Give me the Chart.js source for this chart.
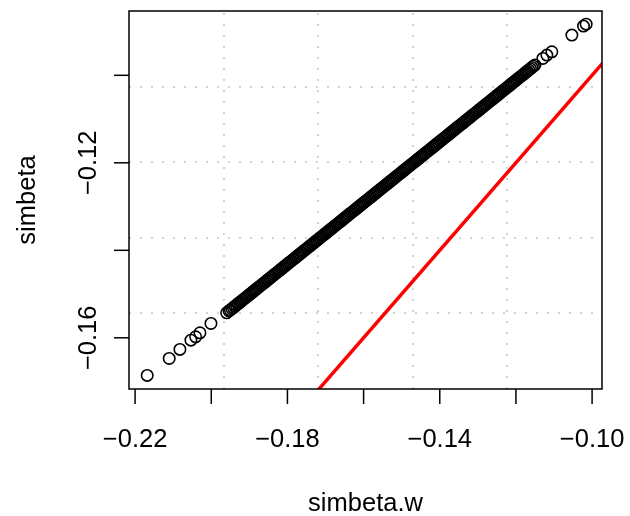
<!DOCTYPE html>
<html>
<head>
<meta charset="utf-8">
<script src="https://cdn.jsdelivr.net/npm/chart.js@4/dist/chart.umd.min.js"></script>
<style>
html,body{margin:0;padding:0;background:#fff;}
canvas{display:block;}
</style>
</head>
<body>
<canvas id="c" width="630" height="516"></canvas>
<script>
// ---- data ----
const simbetaW = [
  -0.21682,-0.21104,-0.20823,-0.20534,-0.20410,-0.20297,-0.20008,-0.19596,-0.19535,
  -0.1950,-0.1946,-0.1942,-0.1938,-0.1934,-0.1930,-0.1926,-0.1922,-0.1918,-0.1914,
  -0.1910,-0.1906,-0.1902,-0.1898,-0.1894,-0.1890,-0.1886,-0.1882,-0.1878,-0.1874,
  -0.1870,-0.1866,-0.1862,-0.1858,-0.1854,-0.1850,-0.1846,-0.1842,-0.1838,-0.1834,
  -0.1830,-0.1826,-0.1822,-0.1818,-0.1814,-0.1810,-0.1806,-0.1802,-0.1798,-0.1794,
  -0.1790,-0.1786,-0.1782,-0.1778,-0.1774,-0.1770,-0.1766,-0.1762,-0.1758,-0.1754,
  -0.1750,-0.1746,-0.1742,-0.1738,-0.1734,-0.1730,-0.1726,-0.1722,-0.1718,-0.1714,
  -0.1710,-0.1706,-0.1702,-0.1698,-0.1694,-0.1690,-0.1686,-0.1682,-0.1678,-0.1674,
  -0.1670,-0.1666,-0.1662,-0.1658,-0.1654,-0.1650,-0.1646,-0.1642,-0.1638,-0.1634,
  -0.1630,-0.1626,-0.1622,-0.1618,-0.1614,-0.1610,-0.1606,-0.1602,-0.1598,-0.1594,
  -0.1590,-0.1586,-0.1582,-0.1578,-0.1574,-0.1570,-0.1566,-0.1562,-0.1558,-0.1554,
  -0.1550,-0.1546,-0.1542,-0.1538,-0.1534,-0.1530,-0.1526,-0.1522,-0.1518,-0.1514,
  -0.1510,-0.1506,-0.1502,-0.1498,-0.1494,-0.1490,-0.1486,-0.1482,-0.1478,-0.1474,
  -0.1470,-0.1466,-0.1462,-0.1458,-0.1454,-0.1450,-0.1446,-0.1442,-0.1438,-0.1434,
  -0.1430,-0.1426,-0.1422,-0.1418,-0.1414,-0.1410,-0.1406,-0.1402,-0.1398,-0.1394,
  -0.1390,-0.1386,-0.1382,-0.1378,-0.1374,-0.1370,-0.1366,-0.1362,-0.1358,-0.1354,
  -0.1350,-0.1346,-0.1342,-0.1338,-0.1334,-0.1330,-0.1326,-0.1322,-0.1318,-0.1314,
  -0.1310,-0.1306,-0.1302,-0.1298,-0.1294,-0.1290,-0.1286,-0.1282,-0.1278,-0.1274,
  -0.1270,-0.1266,-0.1262,-0.1258,-0.1254,-0.1250,-0.1246,-0.1242,-0.1238,-0.1234,
  -0.1230,-0.1226,-0.1222,-0.1218,-0.1214,-0.1210,-0.1206,-0.1202,-0.1198,-0.1194,
  -0.1190,-0.1186,-0.1182,-0.1178,-0.1174,-0.1170,-0.1166,-0.1162,-0.1158,-0.1154,
  -0.1150,
  -0.11293,-0.11188,-0.11057,-0.10531,-0.10226,-0.10156
];
const simbeta = [
  -0.16859,-0.16471,-0.16265,-0.16053,-0.15977,-0.15886,-0.15671,-0.15429,-0.15383,
  -0.15364,-0.15336,-0.15308,-0.15280,-0.15252,-0.15224,-0.15196,-0.15168,-0.15140,-0.15112,
  -0.15084,-0.15056,-0.15028,-0.15000,-0.14972,-0.14944,-0.14916,-0.14888,-0.14860,-0.14832,
  -0.14804,-0.14776,-0.14748,-0.14720,-0.14692,-0.14664,-0.14636,-0.14608,-0.14580,-0.14552,
  -0.14524,-0.14496,-0.14468,-0.14440,-0.14412,-0.14384,-0.14356,-0.14328,-0.14300,-0.14272,
  -0.14244,-0.14216,-0.14188,-0.14160,-0.14132,-0.14104,-0.14076,-0.14048,-0.14020,-0.13992,
  -0.13964,-0.13936,-0.13908,-0.13880,-0.13852,-0.13824,-0.13796,-0.13768,-0.13740,-0.13712,
  -0.13684,-0.13656,-0.13628,-0.13600,-0.13572,-0.13544,-0.13516,-0.13488,-0.13460,-0.13432,
  -0.13404,-0.13376,-0.13348,-0.13320,-0.13292,-0.13264,-0.13236,-0.13208,-0.13180,-0.13152,
  -0.13124,-0.13096,-0.13068,-0.13040,-0.13012,-0.12984,-0.12956,-0.12928,-0.12900,-0.12872,
  -0.12844,-0.12816,-0.12788,-0.12760,-0.12732,-0.12704,-0.12676,-0.12648,-0.12620,-0.12592,
  -0.12564,-0.12536,-0.12508,-0.12480,-0.12452,-0.12424,-0.12396,-0.12368,-0.12340,-0.12312,
  -0.12284,-0.12256,-0.12228,-0.12200,-0.12172,-0.12144,-0.12116,-0.12088,-0.12060,-0.12032,
  -0.12004,-0.11976,-0.11948,-0.11920,-0.11892,-0.11864,-0.11836,-0.11808,-0.11780,-0.11752,
  -0.11724,-0.11696,-0.11668,-0.11640,-0.11612,-0.11584,-0.11556,-0.11528,-0.11500,-0.11472,
  -0.11444,-0.11416,-0.11388,-0.11360,-0.11332,-0.11304,-0.11276,-0.11248,-0.11220,-0.11192,
  -0.11164,-0.11136,-0.11108,-0.11080,-0.11052,-0.11024,-0.10996,-0.10968,-0.10940,-0.10912,
  -0.10884,-0.10856,-0.10828,-0.10800,-0.10772,-0.10744,-0.10716,-0.10688,-0.10660,-0.10632,
  -0.10604,-0.10576,-0.10548,-0.10520,-0.10492,-0.10464,-0.10436,-0.10408,-0.10380,-0.10352,
  -0.10324,-0.10296,-0.10268,-0.10240,-0.10212,-0.10184,-0.10156,-0.10128,-0.10100,-0.10072,
  -0.10044,-0.10016,-0.09988,-0.09960,-0.09932,-0.09904,-0.09876,-0.09848,-0.09820,-0.09792,
  -0.09764,
  -0.09614,-0.09538,-0.09463,-0.09081,-0.08875,-0.08830
];
// reference line y = x (abline(0,1)), two points on it
const refLineX = [-0.18, -0.09];
const refLineY = [-0.18, -0.09];
// axis ranges, ticks and labels
const xRange = [-0.2216, -0.0974];
const yRange = [-0.1717, -0.0853];
const xTicks = [-0.22, -0.20, -0.18, -0.16, -0.14, -0.12, -0.10];
const xTickLabels = ["\u22120.22", "", "\u22120.18", "", "\u22120.14", "", "\u22120.10"];
const yTicks = [-0.16, -0.14, -0.12, -0.10];
const yTickLabels = ["\u22120.16", "", "\u22120.12", ""];
const gridX = [-0.19676, -0.17192, -0.14708, -0.12224];
const gridY = [-0.15442, -0.13714, -0.11986, -0.10258];
const xTitle = "simbeta.w";
const yTitle = "simbeta";

// ---- build chart ----
const points = simbetaW.map((x, i) => ({x: x, y: simbeta[i]}));
const refLine = refLineX.map((x, i) => ({x: x, y: refLineY[i]}));
const FONT = '25.5px "Liberation Sans", Arial, sans-serif';

const rAxes = {
  id: 'rAxes',
  beforeDatasetsDraw(chart) {
    const ctx = chart.ctx, a = chart.chartArea;
    const xs = chart.scales.x, ys = chart.scales.y;
    ctx.save();
    ctx.strokeStyle = '#d3d3d3';
    ctx.lineWidth = 2;
    ctx.setLineDash([2, 9]);
    gridX.forEach(v => {
      const px = Math.round(xs.getPixelForValue(v));
      ctx.beginPath(); ctx.moveTo(px, a.bottom); ctx.lineTo(px, a.top); ctx.stroke();
    });
    gridY.forEach(v => {
      const py = Math.round(ys.getPixelForValue(v));
      ctx.beginPath(); ctx.moveTo(a.left, py); ctx.lineTo(a.right, py); ctx.stroke();
    });
    ctx.restore();
  },
  afterDraw(chart) {
    const ctx = chart.ctx, a = chart.chartArea;
    const xs = chart.scales.x, ys = chart.scales.y;
    ctx.save();
    ctx.strokeStyle = '#000';
    ctx.fillStyle = '#000';
    ctx.lineWidth = 1.5;
    ctx.setLineDash([]);
    ctx.strokeRect(a.left, a.top, a.right - a.left, a.bottom - a.top);
    ctx.font = FONT;
    // x axis ticks + labels
    xTicks.forEach((v, i) => {
      const px = xs.getPixelForValue(v);
      ctx.beginPath(); ctx.moveTo(px, a.bottom); ctx.lineTo(px, a.bottom + 15); ctx.stroke();
      if (xTickLabels[i]) {
        ctx.textAlign = 'center'; ctx.textBaseline = 'alphabetic';
        ctx.fillText(xTickLabels[i], px, a.bottom + 58);
      }
    });
    // y axis ticks + labels
    yTicks.forEach((v, i) => {
      const py = ys.getPixelForValue(v);
      ctx.beginPath(); ctx.moveTo(a.left, py); ctx.lineTo(a.left - 15, py); ctx.stroke();
      if (yTickLabels[i]) {
        ctx.save();
        ctx.translate(a.left - 33, py);
        ctx.rotate(-Math.PI / 2);
        ctx.textAlign = 'center'; ctx.textBaseline = 'alphabetic';
        ctx.fillText(yTickLabels[i], 0, 0);
        ctx.restore();
      }
    });
    // titles
    ctx.textAlign = 'center'; ctx.textBaseline = 'alphabetic';
    ctx.fillText(xTitle, (a.left + a.right) / 2, a.bottom + 122);
    ctx.save();
    ctx.translate(a.left - 94, (a.top + a.bottom) / 2);
    ctx.rotate(-Math.PI / 2);
    ctx.fillText(yTitle, 0, 0);
    ctx.restore();
    ctx.restore();
  }
};

new Chart(document.getElementById('c'), {
  type: 'scatter',
  data: {
    datasets: [
      {
        type: 'line',
        data: refLine,
        borderColor: '#ff0000',
        borderWidth: 3.5,
        pointRadius: 0,
        fill: false,
        clip: 0
      },
      {
        type: 'scatter',
        data: points,
        pointStyle: 'circle',
        pointRadius: 5.7,
        pointBorderWidth: 1.6,
        pointBorderColor: '#000000',
        pointBackgroundColor: 'rgba(0,0,0,0)',
        clip: false
      }
    ]
  },
  options: {
    responsive: false,
    devicePixelRatio: 1,
    animation: false,
    events: [],
    layout: { padding: { left: 129, right: 28, top: 11, bottom: 127 } },
    plugins: { legend: { display: false }, tooltip: { enabled: false } },
    scales: {
      x: { type: 'linear', display: false, min: xRange[0], max: xRange[1] },
      y: { type: 'linear', display: false, min: yRange[0], max: yRange[1] }
    }
  },
  plugins: [rAxes]
});
</script>
</body>
</html>
